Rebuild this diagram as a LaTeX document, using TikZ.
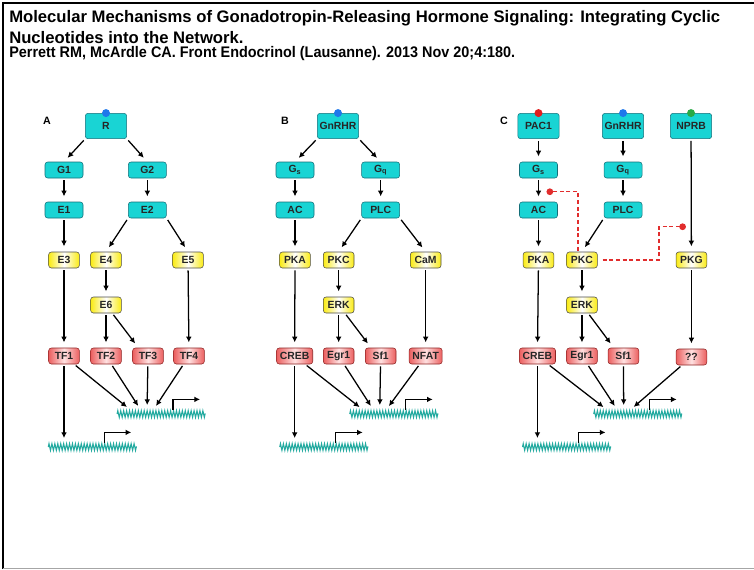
\documentclass[tikz,border=0pt]{standalone}
\usepackage{fontspec}
\setmainfont{Liberation Sans}
\usepackage{xcolor}
\usetikzlibrary{calc,arrows.meta,decorations.pathmorphing}

\definecolor{cyanfill}{RGB}{25,212,212}
\definecolor{cyanline}{RGB}{20,110,120}
\definecolor{yelfill}{RGB}{250,235,20}
\definecolor{redfill}{RGB}{235,95,95}
\definecolor{redline}{RGB}{140,35,35}
\definecolor{dnacol}{RGB}{35,170,160}
\definecolor{inhibred}{RGB}{225,45,45}
\definecolor{dotblue}{RGB}{30,120,235}
\definecolor{dotred}{RGB}{225,30,30}
\definecolor{dotgreen}{RGB}{40,170,70}

\begin{document}
\begin{tikzpicture}[x=0.75pt, y=-0.75pt, node distance=30pt]
    % Define styles
    \tikzstyle{box} = [rectangle, draw, rounded corners=2pt, text=black!85, font=\bfseries\fontsize{7.8}{9}\selectfont, minimum height=12pt, inner ysep=0pt]
    \tikzstyle{recep} = [box, draw=cyanline, fill=cyanfill, minimum width=31pt, minimum height=19pt, inner xsep=1pt]
    \tikzstyle{cyanbox} = [box, draw=cyanline, fill=cyanfill, minimum width=28.5pt]
    \tikzstyle{yelbox} = [box, draw=black!70, left color=yelfill, right color=yelfill, middle color=white, minimum width=23pt, inner xsep=2.5pt]
    \tikzstyle{tfbox} = [box, draw=redline, left color=redfill, right color=redfill, middle color=red!12, minimum width=23pt, inner xsep=2.5pt]
    \tikzstyle{gene} = [minimum width=66pt, minimum height=5pt, inner sep=0pt]
    \tikzstyle{dna} = [draw=dnacol, line width=0.8pt, decorate, decoration={zigzag, segment length=2.2pt, amplitude=2.5pt}]
    \tikzstyle{arr} = [-{Latex[length=4.3pt, width=4.3pt]}, line width=0.95pt, shorten <=1.5pt, shorten >=4pt]
    \tikzstyle{prom} = [-{Latex[length=4.3pt, width=4.3pt]}, line width=0.95pt]
    \tikzstyle{inhib} = [inhibred, dash pattern=on 3pt off 2pt, line width=1pt, -{Circle[length=5pt]}]
    \tikzstyle{label} = [font=\bfseries\fontsize{8}{9}\selectfont]

    \useasboundingbox (0,0) rectangle (754,569);

    % Frame and heading
    \draw [line width=1.7pt] (2.8,569) -- (2.8,2.8) -- (754,2.8);
    \draw [black!35, line width=1pt] (2.8,568.3) -- (754,568.3);
    \node [anchor=base west, inner sep=0pt, font=\bfseries\fontsize{12.5}{14}\selectfont] (title1) at (9,22) {Molecular Mechanisms of Gonadotropin-Releasing Hormone Signaling: Integrating Cyclic};
    \node [anchor=base west, inner sep=0pt, font=\bfseries\fontsize{12.5}{14}\selectfont] (title2) at (9,43) {Nucleotides into the Network.};
    \node [anchor=base west, inner sep=0pt, font=\bfseries\fontsize{11.5}{13}\selectfont] (cite) at (9,57) {\scalebox{0.94}[1]{Perrett RM, McArdle CA. Front Endocrinol (Lausanne). 2013 Nov 20;4:180.}};

    % Panel A
    \node [label] (labA) at (47,121) {A};
    \node [recep] (R) at (106,126) {R};
    \node [cyanbox, below of=R, xshift=-31.5pt, yshift=-3pt] (G1) {G1};
    \node [cyanbox, below of=R, xshift=31pt, yshift=-3pt] (G2) {G2};
    \node [cyanbox, below of=G1] (E1) {E1};
    \node [cyanbox, below of=G2] (E2) {E2};
    \node [yelbox, below of=E1, yshift=-7.5pt] (E3) {E3};
    \node [yelbox, below of=E2, xshift=-31pt, yshift=-7.5pt] (E4) {E4};
    \node [yelbox, below of=E2, xshift=30.5pt, yshift=-7.5pt] (E5) {E5};
    \node [yelbox, below of=E4, yshift=-3.75pt] (E6) {E6};
    \node [tfbox, below of=E6, yshift=-8.25pt] (TF2) {TF2};
    \node [tfbox, left of=TF2, xshift=-1.5pt] (TF1) {TF1};
    \node [tfbox, right of=TF2, xshift=1.5pt] (TF3) {TF3};
    \node [tfbox, right of=TF3, xshift=0.75pt] (TF4) {TF4};
    \node [gene, below of=TF3, xshift=10pt, yshift=-13.5pt] (dnaA1) {};
    \node [gene, below of=TF1, xshift=21.4pt, yshift=-38.25pt] (dnaA2) {};
    \fill [dotblue] (R.north) circle (3pt);

    \draw [arr] (R.south west) -- (G1.north);
    \draw [arr] (R.south east) -- (G2.north);
    \draw [arr] (G1) -- (E1);
    \draw [arr] (G2) -- (E2);
    \draw [arr] (E1) -- (E3);
    \draw [arr] (E2.south west) -- (E4.north);
    \draw [arr] (E2.south east) -- (E5.north);
    \draw [arr] (E3) -- (TF1);
    \draw [arr] (E4) -- (E6);
    \draw [arr] (E5) -- (TF4);
    \draw [arr] (E6) -- (TF2);
    \draw [arr] (E6) -- ($(TF3.north west)+(6,0)$);
    \draw [arr] (TF1) -- ($(dnaA1.north west)+(14,0)$);
    \draw [arr] (TF2) -- ($(dnaA1.north west)+(24,0)$);
    \draw [arr] (TF3) -- ($(dnaA1.north west)+(30,0)$);
    \draw [arr] (TF4) -- ($(dnaA1.north west)+(36,0)$);
    \draw [arr] (TF1) -- (TF1 |- dnaA2.north);
    \draw [dna] (dnaA1.west) -- (dnaA1.east);
    \draw [dna] (dnaA2.west) -- (dnaA2.east);
    \draw [prom] ($(dnaA1.north west)+(56,0)$) |- ++(27,-11);
    \draw [prom] ($(dnaA2.north west)+(56,0)$) |- ++(27,-11);

    % Panel B
    \node [label] (labB) at (285,121) {B};
    \node [recep] (GnRHRb) at (338,126) {GnRHR};
    \node [cyanbox, below of=GnRHRb, xshift=-32.25pt, yshift=-3pt] (Gsb) {G\textsubscript{s}};
    \node [cyanbox, below of=GnRHRb, xshift=32pt, yshift=-3pt] (Gqb) {G\textsubscript{q}};
    \node [cyanbox, below of=Gsb] (ACb) {AC};
    \node [cyanbox, below of=Gqb] (PLCb) {PLC};
    \node [yelbox, below of=ACb, yshift=-7.5pt] (PKAb) {PKA};
    \node [yelbox, below of=PLCb, xshift=-31.5pt, yshift=-7.5pt] (PKCb) {PKC};
    \node [yelbox, below of=PLCb, xshift=33.75pt, yshift=-7.5pt] (CaMb) {CaM};
    \node [yelbox, below of=PKCb, yshift=-3.75pt] (ERKb) {ERK};
    \node [tfbox, below of=ERKb, yshift=-8.25pt] (Egr1b) {Egr1};
    \node [tfbox, left of=Egr1b, xshift=-3pt] (CREBb) {CREB};
    \node [tfbox, right of=Egr1b, xshift=1.5pt] (Sf1b) {Sf1};
    \node [tfbox, right of=Sf1b, xshift=3.75pt] (NFATb) {NFAT};
    \node [gene, below of=Sf1b, xshift=10pt, yshift=-13.5pt] (dnaB1) {};
    \node [gene, below of=CREBb, xshift=22pt, yshift=-38.25pt] (dnaB2) {};
    \fill [dotblue] (GnRHRb.north) circle (3pt);

    \draw [arr] (GnRHRb.south west) -- (Gsb.north);
    \draw [arr] (GnRHRb.south east) -- (Gqb.north);
    \draw [arr] (Gsb) -- (ACb);
    \draw [arr] (Gqb) -- (PLCb);
    \draw [arr] (ACb) -- (PKAb);
    \draw [arr] (PLCb.south west) -- (PKCb.north);
    \draw [arr] (PLCb.south east) -- (CaMb.north);
    \draw [arr] (PKAb) -- (CREBb);
    \draw [arr] (PKCb) -- (ERKb);
    \draw [arr] (CaMb) -- (NFATb);
    \draw [arr] (ERKb) -- (Egr1b);
    \draw [arr] (ERKb) -- ($(Sf1b.north west)+(6,0)$);
    \draw [arr] (CREBb) -- ($(dnaB1.north west)+(14,0)$);
    \draw [arr] (Egr1b) -- ($(dnaB1.north west)+(24,0)$);
    \draw [arr] (Sf1b) -- ($(dnaB1.north west)+(30,0)$);
    \draw [arr] (NFATb) -- ($(dnaB1.north west)+(36,0)$);
    \draw [arr] (CREBb) -- (CREBb |- dnaB2.north);
    \draw [dna] (dnaB1.west) -- (dnaB1.east);
    \draw [dna] (dnaB2.west) -- (dnaB2.east);
    \draw [prom] ($(dnaB1.north west)+(56,0)$) |- ++(27,-11);
    \draw [prom] ($(dnaB2.north west)+(56,0)$) |- ++(27,-11);

    % Panel C
    \node [label] (labC) at (504,121) {C};
    \node [recep] (PAC1c) at (538.5,126) {PAC1};
    \node [recep, right of=PAC1c, xshift=33.4pt] (GnRHRc) {GnRHR};
    \node [recep, right of=GnRHRc, xshift=21pt] (NPRBc) {NPRB};
    \node [cyanbox, below of=PAC1c, yshift=-3pt] (Gsc) {G\textsubscript{s}};
    \node [cyanbox, below of=GnRHRc, yshift=-3pt] (Gqc) {G\textsubscript{q}};
    \node [cyanbox, below of=Gsc] (ACc) {AC};
    \node [cyanbox, below of=Gqc] (PLCc) {PLC};
    \node [yelbox, below of=ACc, yshift=-7.5pt] (PKAc) {PKA};
    \node [yelbox, right of=PKAc, xshift=2.6pt] (PKCc) {PKC};
    \node [yelbox, right of=PKCc, xshift=52.1pt] (PKGc) {PKG};
    \node [yelbox, below of=PKCc, yshift=-3.75pt] (ERKc) {ERK};
    \node [tfbox, below of=ERKc, yshift=-8.25pt] (Egr1c) {Egr1};
    \node [tfbox, left of=Egr1c, xshift=-3.4pt] (CREBc) {CREB};
    \node [tfbox, right of=Egr1c, xshift=1.1pt] (Sf1c) {Sf1};
    \node [tfbox, below of=PKGc, yshift=-42.75pt] (unkc) {??};
    \node [gene, below of=Sf1c, xshift=10.9pt, yshift=-13.5pt] (dnaC1) {};
    \node [gene, below of=CREBc, xshift=22pt, yshift=-38.25pt] (dnaC2) {};
    \fill [dotred] (PAC1c.north) circle (3pt);
    \fill [dotblue] (GnRHRc.north) circle (3pt);
    \fill [dotgreen] (NPRBc.north) circle (3pt);
    \coordinate (kACc) at ($(ACc.north)+(8,-10)$);
    \coordinate (kPKGc) at ($(PKGc.north)+(-5.5,-25)$);

    \draw [arr] (PAC1c) -- (Gsc);
    \draw [arr] (GnRHRc) -- (Gqc);
    \draw [arr] (Gsc) -- (ACc);
    \draw [arr] (Gqc) -- (PLCc);
    \draw [arr] (ACc) -- (PKAc);
    \draw [arr] (PLCc.south west) -- (PKCc.north);
    \draw [arr] (NPRBc) -- (PKGc);
    \draw [arr] (PKAc) -- (CREBc);
    \draw [arr] (PKCc) -- (ERKc);
    \draw [arr] (PKGc) -- (unkc);
    \draw [arr] (ERKc) -- (Egr1c);
    \draw [arr] (ERKc) -- ($(Sf1c.north west)+(6,0)$);
    \draw [arr] (CREBc) -- ($(dnaC1.north west)+(14,0)$);
    \draw [arr] (Egr1c) -- ($(dnaC1.north west)+(24,0)$);
    \draw [arr] (Sf1c) -- ($(dnaC1.north west)+(30,0)$);
    \draw [arr] (unkc) -- ($(dnaC1.north west)+(36,0)$);
    \draw [arr] (CREBc) -- (CREBc |- dnaC2.north);
    \draw [dna] (dnaC1.west) -- (dnaC1.east);
    \draw [dna] (dnaC2.west) -- (dnaC2.east);
    \draw [prom] ($(dnaC1.north west)+(56,0)$) |- ++(27,-11);
    \draw [prom] ($(dnaC2.north west)+(56,0)$) |- ++(27,-11);
    \draw [inhib] ($(PKCc.north)+(-4,-1)$) |- (kACc);
    \draw [inhib] ($(PKCc.east)+(5,0)$) -| ($(kPKGc)+(-27,0)$) -- (kPKGc);
\end{tikzpicture}
\end{document}
